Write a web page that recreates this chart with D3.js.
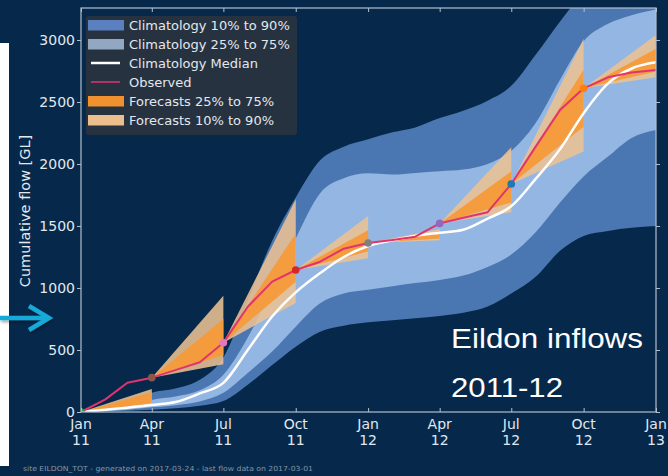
<!DOCTYPE html>
<html>
<head>
<meta charset="utf-8">
<script src="https://cdn.jsdelivr.net/npm/d3@7"></script>
<style>
  html, body { margin: 0; padding: 0; background: #06294b; }
  svg { display: block; }
</style>
</head>
<body>
<svg id="chart" width="668" height="476"></svg>
<script>
// Month starts for the climatology and observed series (Jan 2011 .. Jan 2013)
const months = [
  "2011-01-01","2011-02-01","2011-03-01","2011-04-01","2011-05-01","2011-06-01",
  "2011-07-01","2011-08-01","2011-09-01","2011-10-01","2011-11-01","2011-12-01",
  "2012-01-01","2012-02-01","2012-03-01","2012-04-01","2012-05-01","2012-06-01",
  "2012-07-01","2012-08-01","2012-09-01","2012-10-01","2012-11-01","2012-12-01",
  "2013-01-01"
];

// Climatology percentiles of cumulative flow [GL]
const clim10 = [0, 5, 10, 18, 30, 50, 88, 220, 379, 527, 648, 696, 723,
                740, 756, 775, 800, 850, 955, 1090, 1300, 1420, 1460, 1485, 1500];
const clim25 = [0, 8, 18, 38, 55, 85, 155, 315, 487, 688, 876, 955, 985,
                1015, 1040, 1065, 1100, 1170, 1270, 1450, 1690, 1900, 2060, 2210, 2275];
const climMedian = [0, 18, 35, 56, 80, 150, 235, 500, 770, 965, 1120, 1250, 1339,
                    1385, 1420, 1446, 1470, 1560, 1660, 1880, 2120, 2410, 2650, 2770, 2820];
const clim75 = [0, 12, 30, 97, 125, 175, 300, 600, 1000, 1400, 1765, 1885, 1925,
                1915, 1928, 1942, 1955, 2000, 2105, 2330, 2680, 2990, 3130, 3200, 3245];
const clim90 = [0, 20, 50, 155, 190, 260, 440, 900, 1380, 1730, 2030, 2140, 2200,
                2255, 2295, 2370, 2430, 2510, 2630, 2880, 3150, 3380, 3520, 3600, 3650];

// Observed cumulative inflow [GL]
const observed = [0, 102, 236, 277, 338, 401, 559, 849, 1051, 1145, 1212, 1317, 1363,
                  1388, 1414, 1521, 1566, 1611, 1839, 2140, 2435, 2610, 2699, 2737, 2758];

// Seasonal forecasts: issue date, end date and end-of-period percentiles [GL]
const forecastStarts = ["2011-01-01","2011-04-01","2011-07-01","2011-10-01",
                        "2012-01-01","2012-04-01","2012-07-01","2012-10-01"];
const forecastEnds   = ["2011-04-01","2011-07-01","2011-10-01","2012-01-01",
                        "2012-04-01","2012-07-01","2012-10-01","2013-01-01"];
const fc10 = [62, 385, 880, 1240, 1385, 1610, 2100, 2700];
const fc25 = [70, 460, 1050, 1295, 1400, 1690, 2300, 2745];
const fc75 = [160, 750, 1440, 1465, 1455, 1940, 2760, 2930];
const fc90 = [185, 937, 1715, 1580, 1475, 2135, 3010, 3040];
const issueColors = ["#2ca02c","#8c564b","#e377c2","#d62728",
                     "#7f7f7f","#9467bd","#1f77b4","#ff7f0e"];

// Axis ticks
const yTicks = [0, 500, 1000, 1500, 2000, 2500, 3000];
const xTicks = ["2011-01-01","2011-04-01","2011-07-01","2011-10-01","2012-01-01",
                "2012-04-01","2012-07-01","2012-10-01","2013-01-01"];
const xTickMonth = ["Jan","Apr","Jul","Oct","Jan","Apr","Jul","Oct","Jan"];
const xTickYear  = ["11","11","11","11","12","12","12","12","13"];

const legendLabels = ["Climatology 10% to 90%","Climatology 25% to 75%","Climatology Median",
                      "Observed","Forecasts 25% to 75%","Forecasts 10% to 90%"];

const C = {
  bg: "#06294b",
  band90: "#4a77b1",
  band75: "#93b6e2",
  median: "#ffffff",
  obs: "#e0336f",
  fcOuter: "#ecc193",
  fcInner: "#f59a3a",
  axis: "#b3bfcb",
  text: "#e2e8ee"
};

const parse = d3.utcParse("%Y-%m-%d");
const dates = months.map(parse);

const svg = d3.select("#chart");
const W = 668, H = 476;
const plot = { left: 81, right: 656, top: 8, bottom: 412 };

// Page background and the slide strip at the left
svg.append("rect").attr("width", W).attr("height", H).attr("fill", C.bg);
svg.append("rect").attr("x", 0).attr("y", 43).attr("width", 9).attr("height", 423).attr("fill", "#ffffff");

const x = d3.scaleUtc()
  .domain([parse("2011-01-01"), parse("2013-01-01")])
  .range([plot.left, plot.right]);
const y = d3.scaleLinear()
  .domain([0, 3258])
  .range([plot.bottom, plot.top]);

svg.append("clipPath").attr("id", "plotclip")
  .append("rect")
  .attr("x", plot.left).attr("y", plot.top)
  .attr("width", plot.right - plot.left).attr("height", plot.bottom - plot.top);

const g = svg.append("g").attr("clip-path", "url(#plotclip)");

const idx = d3.range(dates.length);
const band = (lo, hi) => d3.area()
  .x(i => x(dates[i])).y0(i => y(lo[i])).y1(i => y(hi[i]))
  .curve(d3.curveMonotoneX);

g.append("path").attr("d", band(clim10, clim90)(idx)).attr("fill", C.band90);
g.append("path").attr("d", band(clim25, clim75)(idx)).attr("fill", C.band75);

// Forecast fans, each from the observed value at issue time
const obsAt = s => observed[months.indexOf(s)];
const fan = (lo, hi) => (s, k) => {
  const x0 = x(parse(s)), x1 = x(parse(forecastEnds[k]));
  const v0 = obsAt(s);
  return `M${x0},${y(v0)}L${x1},${y(hi[k])}L${x1},${y(lo[k])}Z`;
};
g.selectAll("path.fcOuter").data(forecastStarts).join("path")
  .attr("class", "fcOuter")
  .attr("d", fan(fc10, fc90))
  .attr("fill", C.fcOuter).attr("fill-opacity", 0.88);
g.selectAll("path.fcInner").data(forecastStarts).join("path")
  .attr("class", "fcInner")
  .attr("d", fan(fc25, fc75))
  .attr("fill", C.fcInner).attr("fill-opacity", 0.95);

// Climatology median
g.append("path")
  .attr("d", d3.line().x(i => x(dates[i])).y(i => y(climMedian[i])).curve(d3.curveMonotoneX)(idx))
  .attr("fill", "none").attr("stroke", C.median).attr("stroke-width", 2.5);

// Observed
g.append("path")
  .attr("d", d3.line().x(i => x(dates[i])).y(i => y(observed[i]))(idx))
  .attr("fill", "none").attr("stroke", C.obs).attr("stroke-width", 2)
  .attr("stroke-linejoin", "round");

g.selectAll("circle.issue").data(forecastStarts).join("circle")
  .attr("class", "issue")
  .attr("cx", s => x(parse(s))).attr("cy", s => y(obsAt(s)))
  .attr("r", 3.8)
  .attr("fill", (s, k) => issueColors[k]);

// Axes
const font = "'DejaVu Sans', sans-serif";
const yAxis = svg.append("g").attr("transform", `translate(${plot.left},0)`)
  .call(d3.axisLeft(y).tickValues(yTicks).tickSize(4).tickPadding(2).tickFormat(d3.format("d")));
const yAxisR = svg.append("g").attr("transform", `translate(${plot.right},0)`)
  .call(d3.axisLeft(y).tickValues(yTicks).tickSize(-4).tickFormat(""));
const xTickDates = xTicks.map(parse);
const xAxis = svg.append("g").attr("transform", `translate(0,${plot.bottom})`)
  .call(d3.axisBottom(x).tickValues(xTickDates).tickSize(-4).tickFormat(""));
const xAxisT = svg.append("g").attr("transform", `translate(0,${plot.top})`)
  .call(d3.axisBottom(x).tickValues(xTickDates).tickSize(4).tickFormat(""));

[yAxis, yAxisR, xAxis, xAxisT].forEach(a => {
  a.select(".domain").remove();
  a.selectAll("line").attr("stroke", C.axis).attr("stroke-width", 1);
  a.selectAll("text").attr("fill", C.text).attr("font-family", font).attr("font-size", 14);
});

// Spines
svg.append("rect")
  .attr("x", plot.left).attr("y", plot.top)
  .attr("width", plot.right - plot.left).attr("height", plot.bottom - plot.top)
  .attr("fill", "none").attr("stroke", C.axis).attr("stroke-width", 1.2);

// Two-line date labels
const xl = svg.append("g").attr("font-family", font).attr("font-size", 14)
  .attr("fill", C.text).attr("text-anchor", "middle");
xTickDates.forEach((d, k) => {
  const t = xl.append("text").attr("x", x(d)).attr("y", 429);
  t.append("tspan").attr("x", x(d)).text(xTickMonth[k]);
  t.append("tspan").attr("x", x(d)).attr("dy", 16).text(xTickYear[k]);
});

svg.append("text")
  .attr("transform", "translate(30,211) rotate(-90)")
  .attr("text-anchor", "middle")
  .attr("font-family", font).attr("font-size", 14.5)
  .attr("fill", C.text)
  .text("Cumulative flow [GL]");

// Legend
const lg = svg.append("g");
lg.append("rect").attr("x", 86).attr("y", 16).attr("width", 211).attr("height", 119)
  .attr("rx", 3).attr("fill", "#29333f").attr("fill-opacity", 0.95);
const rowY = k => 25 + k * 19;
const swatch = [
  { type: "patch", color: "#5a80c0" },
  { type: "patch", color: "#92a8c2" },
  { type: "line", color: "#ffffff", w: 2.5 },
  { type: "line", color: C.obs, w: 1.5 },
  { type: "patch", color: "#f0902f" },
  { type: "patch", color: "#ecbd8d" }
];
legendLabels.forEach((lab, k) => {
  const s = swatch[k];
  if (s.type === "patch") {
    lg.append("rect").attr("x", 88).attr("y", rowY(k) - 5).attr("width", 36).attr("height", 10.5)
      .attr("fill", s.color);
  } else {
    lg.append("line").attr("x1", 91).attr("x2", 120).attr("y1", rowY(k)).attr("y2", rowY(k))
      .attr("stroke", s.color).attr("stroke-width", s.w);
  }
  lg.append("text").attr("x", 129).attr("y", rowY(k)).attr("dy", "0.35em")
    .attr("font-family", font).attr("font-size", 13).attr("fill", C.text).text(lab);
});

// Title block
const title = svg.append("g").attr("font-family", "'Liberation Sans', Arial, sans-serif")
  .attr("font-size", 28.5).attr("fill", "#ffffff");
title.append("text").attr("x", 451).attr("y", 348)
  .attr("textLength", 192).attr("lengthAdjust", "spacingAndGlyphs").text("Eildon inflows");
title.append("text").attr("x", 451).attr("y", 397)
  .attr("textLength", 112).attr("lengthAdjust", "spacingAndGlyphs").text("2011-12");

// Footer
svg.append("text").attr("x", 23).attr("y", 471)
  .attr("font-family", font).attr("font-size", 7).attr("fill", "#8595a6")
  .attr("textLength", 290).attr("lengthAdjust", "spacingAndGlyphs")
  .text("site EILDON_TOT - generated on 2017-03-24 - last flow data on 2017-03-01");

// Pointer arrow at the left margin, with a soft shadow
const defs = svg.append("defs");
const f = defs.append("filter").attr("id", "shadow").attr("x", "-20%").attr("y", "-50%")
  .attr("width", "140%").attr("height", "200%");
f.append("feDropShadow").attr("dx", 1).attr("dy", 2).attr("stdDeviation", 1.5)
  .attr("flood-color", "#000").attr("flood-opacity", 0.35);
const arrow = svg.append("g").attr("stroke", "#19aad8").attr("stroke-width", 4.5)
  .attr("fill", "none").attr("filter", "url(#shadow)");
arrow.append("line").attr("x1", 0).attr("x2", 47).attr("y1", 318).attr("y2", 318);
arrow.append("polyline").attr("points", "29,306 49,318 29,330").attr("stroke-linejoin", "miter");
</script>
</body>
</html>
